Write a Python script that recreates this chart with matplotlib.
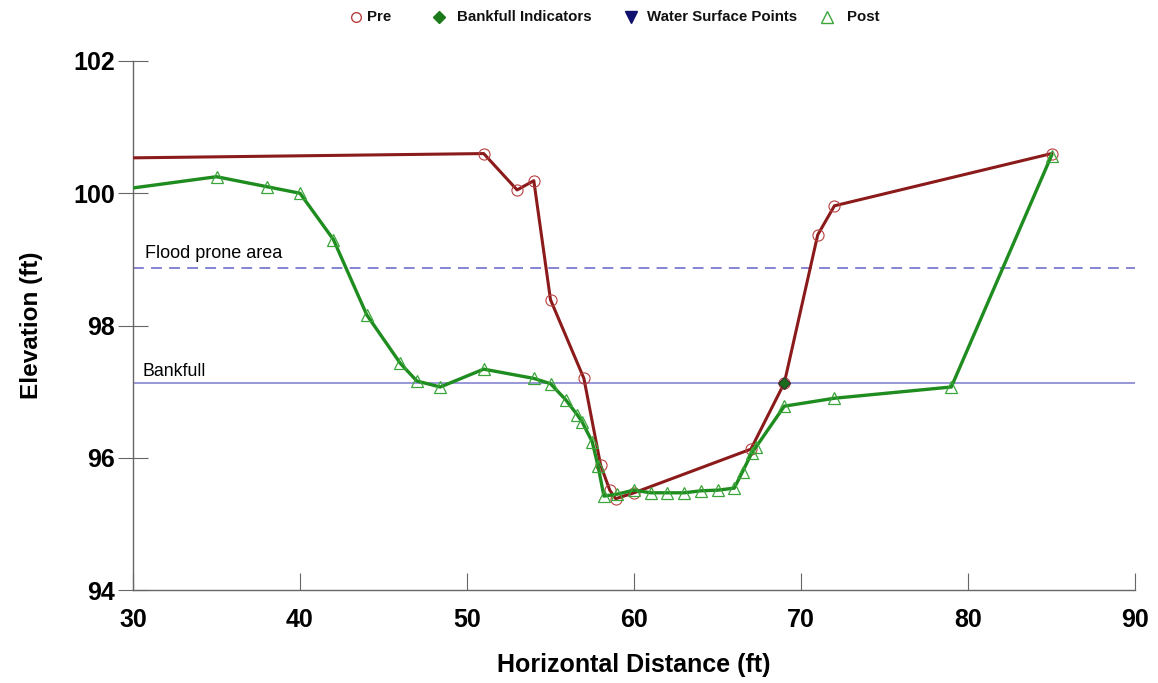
import numpy as np
import matplotlib.pyplot as plt
from matplotlib.lines import Line2D

plt.rcParams['font.family'] = ['Liberation Sans', 'DejaVu Sans']

# pre-construction survey
preX = [25, 51, 53, 54, 55, 57, 58, 58.55, 58.9, 60, 67, 69, 71, 72, 85]
preY = [100.52, 100.6, 100.05, 100.19, 98.39, 97.2, 95.89, 95.51, 95.38, 95.47,
        96.13, 97.13, 99.37, 99.81, 100.6]

# post-construction survey
postX = [25, 35, 38, 40, 42, 44, 46, 47, 48.4, 51, 54, 55, 55.9, 56.6, 56.9, 57.5,
         57.85, 58.2, 59, 60, 61, 62, 63, 64, 65, 66, 66.5, 67.05, 67.3, 69, 72, 79, 85]
postY = [99.91, 100.25, 100.1, 100.0, 99.3, 98.16, 97.43, 97.16, 97.07, 97.34, 97.2,
         97.12, 96.88, 96.65, 96.54, 96.24, 95.87, 95.42, 95.45, 95.51, 95.47, 95.47,
         95.47, 95.5, 95.51, 95.54, 95.79, 96.07, 96.16, 96.78, 96.9, 97.07, 100.57]

bankfullX = [69]
bankfullY = [97.13]

floodProne = 98.87
bankfull = 97.13

xTicks = [30, 40, 50, 60, 70, 80, 90]
yTicks = [94, 96, 98, 100, 102]

preColor = '#8b1a1a'
preMarker = '#b84040'
postColor = '#1e8c1e'
postMarker = '#3aa63a'
refColor = '#7b7bd0'

W, H = 1158, 683
fig = plt.figure(figsize=(W / 100, H / 100), dpi=100)
ax = fig.add_axes([133 / W, 93 / H, 1002 / W, 529 / H])

ax.axhline(floodProne, color=refColor, lw=1.3, ls=(0, (6, 4)))
ax.axhline(bankfull, color=refColor, lw=1.1)
ax.text(30.7, floodProne + 0.15, 'Flood prone area', fontsize=13, color='black')
ax.text(30.55, bankfull + 0.1, 'Bankfull', fontsize=12.8, color='black')

ax.plot(preX, preY, color=preColor, lw=2.2, marker='o', ms=8,
        mfc='none', mec=preMarker, mew=0.8, zorder=3)
ax.plot(postX, postY, color=postColor, lw=2.4, marker='^', ms=8,
        mfc='none', mec=postMarker, mew=0.9, zorder=4)
ax.plot(bankfullX, bankfullY, ls='none', marker='D', ms=6, color='#1a6b1a',
        mec='#333333', mew=0.8, zorder=5)

ax.set_xlim(30, 90)
ax.set_ylim(94, 102)
ax.set_xticks(xTicks)
ax.set_yticks(yTicks)
for side in ['top', 'right']:
    ax.spines[side].set_visible(False)
for side in ['left', 'bottom']:
    ax.spines[side].set_color('#666666')
    ax.spines[side].set_linewidth(1.0)
ax.tick_params(axis='x', direction='in', length=12, width=0.8, color='#666666',
               labelsize=18, pad=13)
ax.tick_params(axis='y', direction='inout', length=22, width=0.8, color='#666666',
               labelsize=18, pad=2)
for lab in ax.get_xticklabels() + ax.get_yticklabels():
    lab.set_fontweight('bold')

ax.set_xlabel('Horizontal Distance (ft)', fontsize=18, fontweight='bold', labelpad=15)
ax.set_ylabel('Elevation (ft)', fontsize=17.5, fontweight='bold', labelpad=22)

# legend row along the top
legY = 1 - 17 / H
entries = [
    (356, 367, 'Pre', dict(marker='o', ms=7, mfc='none', mec=preMarker, mew=1)),
    (439, 457, 'Bankfull Indicators', dict(marker='D', ms=6, color='#1a7a1a')),
    (631, 647, 'Water Surface Points', dict(marker='v', ms=8, color='#10106e')),
    (827, 847, 'Post', dict(marker='^', ms=8, mfc='none', mec=postMarker, mew=1)),
]
for mx, tx, label, style in entries:
    fig.add_artist(Line2D([mx / W], [legY], ls='none', transform=fig.transFigure, **style))
    fig.text(tx / W, legY, label, fontsize=10.8, fontweight='bold', va='center',
             ha='left', color='#111111')

fig.savefig('out.png', dpi=100)
